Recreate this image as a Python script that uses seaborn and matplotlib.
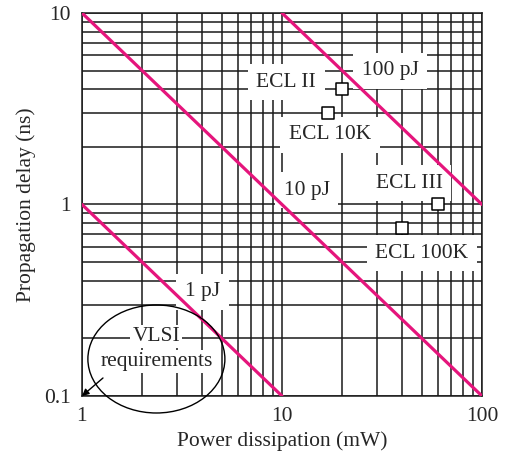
import matplotlib
matplotlib.use("Agg")
import matplotlib.pyplot as plt
import matplotlib.ticker as mticker
from matplotlib.patches import Ellipse
import seaborn as sns
import pandas as pd

# constant switching-energy lines (power mW, delay ns)
energy_labels = ["1 pJ", "10 pJ", "100 pJ"]
line_power = [[1, 10], [1, 100], [10, 100]]
line_delay = [[1, 0.1], [10, 0.1], [10, 1]]

# logic families
families = ["ECL II", "ECL 10K", "ECL III", "ECL 100K"]
fam_power = [20, 17, 60, 40]
fam_delay = [4.0, 3.0, 1.0, 0.75]

# label anchor points (data coords)
label_power = [4.0, 13.3, 34.7]
label_delay = [0.35, 1.19, 5.0]
fam_label_power = [10.5, 17.4, 43.3, 50.0]
fam_label_delay = [4.36, 2.31, 1.29, 0.556]

xticks = [1, 10, 100]
xtick_labels = ["1", "10", "100"]
yticks = [0.1, 1, 10]
ytick_labels = ["0.1", "1", "10"]

FS = 15.5

sns.set_style("white")
plt.rcParams["font.family"] = ["Liberation Serif", "DejaVu Serif"]
plt.rcParams["font.size"] = FS

fig, ax = plt.subplots(figsize=(5.14, 4.57), dpi=100)
fig.subplots_adjust(left=0.1595, right=0.9377, top=0.9716, bottom=0.1335)

rows = []
for lab, px, dy in zip(energy_labels, line_power, line_delay):
    for p, d in zip(px, dy):
        rows.append({"energy": lab, "power": p, "delay": d})
lines = pd.DataFrame(rows)
sns.lineplot(data=lines, x="power", y="delay", units="energy", estimator=None,
             color="#e5157c", lw=2.3, ax=ax, zorder=4, legend=False)

fam = pd.DataFrame({"family": families, "power": fam_power, "delay": fam_delay})
sns.scatterplot(data=fam, x="power", y="delay", marker="s", s=70,
                facecolor="white", edgecolor="black", linewidth=1.1,
                ax=ax, zorder=6, legend=False)

ax.set_xscale("log")
ax.set_yscale("log")
ax.set_xlim(1, 100)
ax.set_ylim(0.1, 10)

ax.set_xticks(xticks, labels=xtick_labels)
ax.set_yticks(yticks, labels=ytick_labels)
ax.xaxis.set_minor_locator(mticker.LogLocator(base=10, subs=range(2, 10)))
ax.yaxis.set_minor_locator(mticker.LogLocator(base=10, subs=range(2, 10)))
ax.xaxis.set_minor_formatter(mticker.NullFormatter())
ax.yaxis.set_minor_formatter(mticker.NullFormatter())
ax.tick_params(which="both", length=0, pad=8, labelsize=FS)
ax.grid(which="both", color="#1a1a1a", lw=1.1)
ax.set_axisbelow(True)
for sp in ax.spines.values():
    sp.set_color("#1a1a1a")
    sp.set_linewidth(1.1)

box = dict(boxstyle="square,pad=0.4", fc="white", ec="none")
for lab, x, y in zip(energy_labels, label_power, label_delay):
    ax.text(x, y, lab, ha="center", va="center", fontsize=FS, bbox=box, zorder=3)
for lab, x, y in zip(families, fam_label_power, fam_label_delay):
    ax.text(x, y, lab, ha="center", va="center", fontsize=FS, bbox=box, zorder=3)

# VLSI requirements bubble
ell = Ellipse((0.186, 0.0966), 0.3425, 0.282, transform=ax.transAxes,
              fc="none", ec="black", lw=1.0, clip_on=False, zorder=5)
ax.add_patch(ell)
small_box = dict(boxstyle="square,pad=0.1", fc="white", ec="none")
ax.text(0.186, 0.155, "VLSI", transform=ax.transAxes, ha="center", va="center",
        fontsize=FS, bbox=small_box, zorder=3)
ax.text(0.186, 0.09, "requirements", transform=ax.transAxes, ha="center", va="center",
        fontsize=FS, bbox=small_box, zorder=3)
ax.annotate("", xy=(1, 0.1), xytext=(0.0525, 0.047), textcoords="axes fraction",
            arrowprops=dict(arrowstyle="-|>", color="black", lw=1.0,
                            mutation_scale=10, shrinkA=0, shrinkB=0),
            annotation_clip=False, zorder=5)

ax.set_xlabel("Power dissipation (mW)", fontsize=FS, labelpad=4)
ax.set_ylabel("Propagation delay (ns)", fontsize=FS, labelpad=6)

fig.savefig("out.png", dpi=100)
